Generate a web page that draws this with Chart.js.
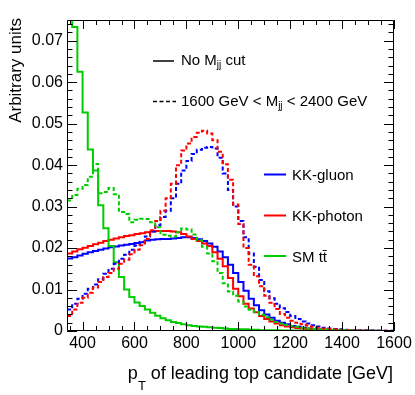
<!DOCTYPE html>
<html><head><meta charset="utf-8">
<script src="https://cdn.jsdelivr.net/npm/chart.js@4/dist/chart.umd.min.js"></script>
<style>html,body{margin:0;padding:0;background:#fff;}canvas{display:block;}</style>
</head><body>
<canvas id="c" width="415" height="395"></canvas>
<script>
// ---- data ----
const binLow = 340, binWidth = 20;           // histogram bins: 340..1600 GeV, 20 GeV wide
const xMin = 340, xMax = 1600, yMin = 0, yMax = 0.075;
const xTickValues = [400, 600, 800, 1000, 1200, 1400, 1600];
const yTickValues = [0, 0.01, 0.02, 0.03, 0.04, 0.05, 0.06, 0.07];

// No Mjj cut (solid)
const kkGluon = [
 0.0175,0.0178,0.0182,0.0186,0.0190,0.0193,0.0196,0.0199,0.0202,0.0204,0.0206,0.0208,0.0210,
 0.0212,0.0214,0.0218,0.0220,0.0221,0.0222,0.0222,0.0223,0.0224,0.0226,0.0226,0.0224,0.0221,
 0.0217,0.0211,0.0203,0.0192,0.0178,0.0160,0.0140,0.0118,0.0097,0.0078,0.0062,0.0050,0.0040,
 0.0032,0.0025,0.0020,0.0016,0.0012,0.0010,0.0008,0.0006,0.0005,0.0004,0.0003,0.0002,
 0.0002,0.00015,0.0001,0.0001,0.0001,0.00008,0.00006,0.00005,0.00004,0.00003,0.00002,0.00002];
const kkPhoton = [
 0.0187,0.0192,0.0197,0.0201,0.0205,0.0209,0.0213,0.0217,0.0220,0.0223,0.0226,0.0229,0.0231,
 0.0234,0.0236,0.0238,0.0240,0.0241,0.0241,0.0241,0.0240,0.0238,0.0234,0.0228,0.0222,0.0217,
 0.0211,0.0205,0.0190,0.0174,0.0156,0.0128,0.0102,0.0084,0.0066,0.0054,0.0045,0.0036,0.0029,
 0.0023,0.0018,0.0014,0.0011,0.0009,0.0007,0.0006,0.0005,0.0004,0.0003,0.0003,0.0002,
 0.0002,0.00015,0.0001,0.0001,0.00008,0.00006,0.00005,0.00004,0.00003,0.00002,0.00002,0.00001];
const smTT = [
 0.0850,0.0733,0.0625,0.0527,0.0438,0.0387,0.0303,0.0248,0.0205,0.0166,0.0130,0.0100,0.0082,
 0.0069,0.0060,0.0052,0.0044,0.0037,0.0031,0.0026,0.0022,0.0019,0.0016,0.0014,0.0012,0.0011,
 0.0010,0.0009,0.0008,0.0007,0.0006,0.0005,0.0005,0.0004,0.0004,0.0003,0.0003,0.0002,0.0002,
 0.0002,0.0002,0.00015,0.00012,0.0001,0.0001,0.00008,0.00007,0.00006,0.00005,0.00004,0.00003,
 0.00003,0.00002,0.00002,0.00002,0.00001,0.00001,0.00001,0.00001,0.00001,0,0,0];

// 1600 GeV < Mjj < 2400 GeV (dashed)
const kkGluonCut = [
 0.0052,0.0066,0.0078,0.0090,0.0102,0.0112,0.0125,0.0138,0.0150,0.0162,0.0174,0.0184,0.0196,
 0.0206,0.0215,0.0228,0.0240,0.0255,0.0275,0.0290,0.0320,0.0355,0.0387,0.0410,0.0427,0.0437,
 0.0442,0.0444,0.0440,0.0418,0.0380,0.0340,0.0300,0.0265,0.0226,0.0187,0.0155,0.0123,0.0096,
 0.0079,0.0066,0.0055,0.0046,0.0036,0.0029,0.0023,0.0018,0.0014,0.0011,0.0008,0.0006,
 0.0005,0.0004,0.0003,0.0002,0.0002,0.00015,0.0001,0.0001,0.00008,0.00006,0.00005,0.00004];
const kkPhotonCut = [
 0.0036,0.0052,0.0068,0.0080,0.0092,0.0105,0.0118,0.0130,0.0140,0.0150,0.0162,0.0172,0.0185,
 0.0196,0.0207,0.0222,0.0243,0.0265,0.0290,0.0320,0.0355,0.0400,0.0435,0.0452,0.0468,0.0478,
 0.0483,0.0476,0.0460,0.0432,0.0402,0.0365,0.0305,0.0258,0.0200,0.0160,0.0132,0.0108,0.0085,
 0.0068,0.0053,0.0041,0.0032,0.0025,0.0020,0.0016,0.0013,0.0010,0.0008,0.0006,0.0005,
 0.0004,0.0003,0.0002,0.0002,0.00015,0.0001,0.0001,0.00008,0.00006,0.00005,0.00004,0.00003];
const smTTCut = [
 0.0315,0.0328,0.0343,0.0352,0.0372,0.0403,0.0332,0.0335,0.0345,0.0330,0.0287,0.0282,0.0262,
 0.0268,0.0271,0.0270,0.0262,0.0250,0.0232,0.0230,0.0228,0.0238,0.0247,0.0245,0.0233,0.0219,
 0.0203,0.0187,0.0168,0.0140,0.0115,0.0095,0.0085,0.0071,0.0059,0.0051,0.0046,0.0039,0.0033,
 0.0027,0.0022,0.0018,0.0015,0.0012,0.0010,0.0008,0.0006,0.0005,0.0004,0.0003,0.0003,
 0.0002,0.0002,0.00015,0.0001,0.0001,0.00008,0.00006,0.00005,0.00004,0.00003,0.00002,0.00002];

// ---- styling ----
const FAM = "'Liberation Sans', Arial, Helvetica, sans-serif";
const BLUE = '#0000ff', RED = '#ff0000', GREEN = '#00cc00';
const DASH = [4, 2.5];

function histPoints(vals) {
  const pts = vals.map((v, k) => ({x: binLow + k * binWidth, y: v}));
  pts.push({x: binLow + vals.length * binWidth, y: vals[vals.length - 1]});
  return pts;
}
const seriesList = [
  [kkGluon, BLUE, false], [kkPhoton, RED, false], [smTT, GREEN, false],
  [kkGluonCut, BLUE, true], [kkPhotonCut, RED, true], [smTTCut, GREEN, true]
];
const datasets = seriesList.map(([vals, col, dashed], i) => ({
  data: histPoints(vals), borderColor: col, borderWidth: 2, borderDash: dashed ? DASH : [],
  stepped: true, pointRadius: 0, fill: false, order: seriesList.length - i
}));

function rich(ctx, x, y, parts, measureOnly) {
  let cx = x;
  for (const [t, size, dy] of parts) {
    ctx.font = size + 'px ' + FAM;
    if (!measureOnly) ctx.fillText(t, cx, y + dy);
    cx += ctx.measureText(t).width;
  }
  return cx - x;
}

const decor = {
  id: 'decor',
  afterDraw(chart) {
    const {ctx, chartArea: a, scales: {x, y}} = chart;
    ctx.save();
    ctx.strokeStyle = '#000'; ctx.fillStyle = '#000'; ctx.lineWidth = 1; ctx.setLineDash([]);
    // frame
    ctx.beginPath();
    ctx.rect(a.left + 0.5, a.top + 0.5, a.right - a.left - 1, a.bottom - a.top - 1);
    ctx.stroke();
    // x ticks (bottom & top, inward)
    ctx.beginPath();
    for (let v = 350; v <= xMax; v += 50) {
      const px = Math.round(x.getPixelForValue(v)) + 0.5;
      const len = (v % 200 === 0) ? 9 : 5;
      ctx.moveTo(px, a.bottom); ctx.lineTo(px, a.bottom - len);
      ctx.moveTo(px, a.top); ctx.lineTo(px, a.top + len);
    }
    // y ticks (left & right, inward)
    for (let i = 0; i <= 37; i++) {
      const v = i * 0.002;
      const py = Math.round(y.getPixelForValue(v)) + 0.5;
      const len = (i % 5 === 0) ? 10 : 5.5;
      ctx.moveTo(a.left, py); ctx.lineTo(a.left + len, py);
      ctx.moveTo(a.right, py); ctx.lineTo(a.right - len, py);
    }
    ctx.stroke();

    // axis titles
    ctx.textAlign = 'left'; ctx.textBaseline = 'alphabetic';
    const xt = [['p', 18, 0], ['T', 13, 11], [' of leading top candidate [GeV]', 18, 0]];
    const w = rich(ctx, 0, 0, xt, true);
    rich(ctx, 393 - w, 378.5, xt);
    ctx.save();
    ctx.translate(20.5, 18); ctx.rotate(-Math.PI / 2);
    ctx.textAlign = 'right'; ctx.font = '17px ' + FAM;
    ctx.fillText('Arbitrary units', 0, 0);
    ctx.restore();

    // legend: line styles
    ctx.lineWidth = 1.5;
    ctx.beginPath(); ctx.moveTo(153, 61); ctx.lineTo(174, 61); ctx.stroke();
    ctx.setLineDash(DASH);
    ctx.beginPath(); ctx.moveTo(153, 101.5); ctx.lineTo(176, 101.5); ctx.stroke();
    ctx.setLineDash([]);
    ctx.textAlign = 'left';
    rich(ctx, 181, 64.5, [['No M', 15, 0], ['jj', 10, 3], [' cut', 15, 0]]);
    rich(ctx, 181, 106, [['1600 GeV < M', 15, 0], ['jj', 10, 3], [' < 2400 GeV', 15, 0]]);

    // legend: samples
    const rows = [[BLUE, 174.5, 'KK-gluon'], [RED, 215.5, 'KK-photon'], [GREEN, 256, 'SM tt\u0304']];
    ctx.lineWidth = 2;
    for (const [col, ly, label] of rows) {
      ctx.strokeStyle = col;
      ctx.beginPath(); ctx.moveTo(264, ly); ctx.lineTo(286, ly); ctx.stroke();
      ctx.fillStyle = '#000'; ctx.font = '15px ' + FAM;
      ctx.fillText(label, 292, ly + 5.5);
    }
    ctx.restore();
  }
};

new Chart(document.getElementById('c'), {
  type: 'line',
  data: {datasets},
  options: {
    responsive: false, animation: false, devicePixelRatio: 1,
    layout: {padding: {left: 0, right: 21, top: 20, bottom: 0}},
    plugins: {legend: {display: false}, tooltip: {enabled: false}},
    elements: {point: {radius: 0}, line: {tension: 0}},
    scales: {
      x: {
        type: 'linear', min: xMin, max: xMax,
        grid: {display: false, drawTicks: false}, border: {display: false},
        ticks: {font: {family: FAM, size: 16}, color: '#000', padding: 3, autoSkip: false, maxRotation: 0,
                callback: v => String(v)},
        afterBuildTicks: s => { s.ticks = xTickValues.map(v => ({value: v})); },
        afterFit: s => { s.height = 64; }
      },
      y: {
        type: 'linear', min: yMin, max: yMax,
        grid: {display: false, drawTicks: false}, border: {display: false},
        ticks: {font: {family: FAM, size: 16}, color: '#000', padding: 4,
                callback: v => (v === 0 ? '0' : v.toFixed(2))},
        afterBuildTicks: s => { s.ticks = yTickValues.map(v => ({value: v})); },
        afterFit: s => { s.width = 67; }
      }
    }
  },
  plugins: [decor]
});
</script>
</body></html>
